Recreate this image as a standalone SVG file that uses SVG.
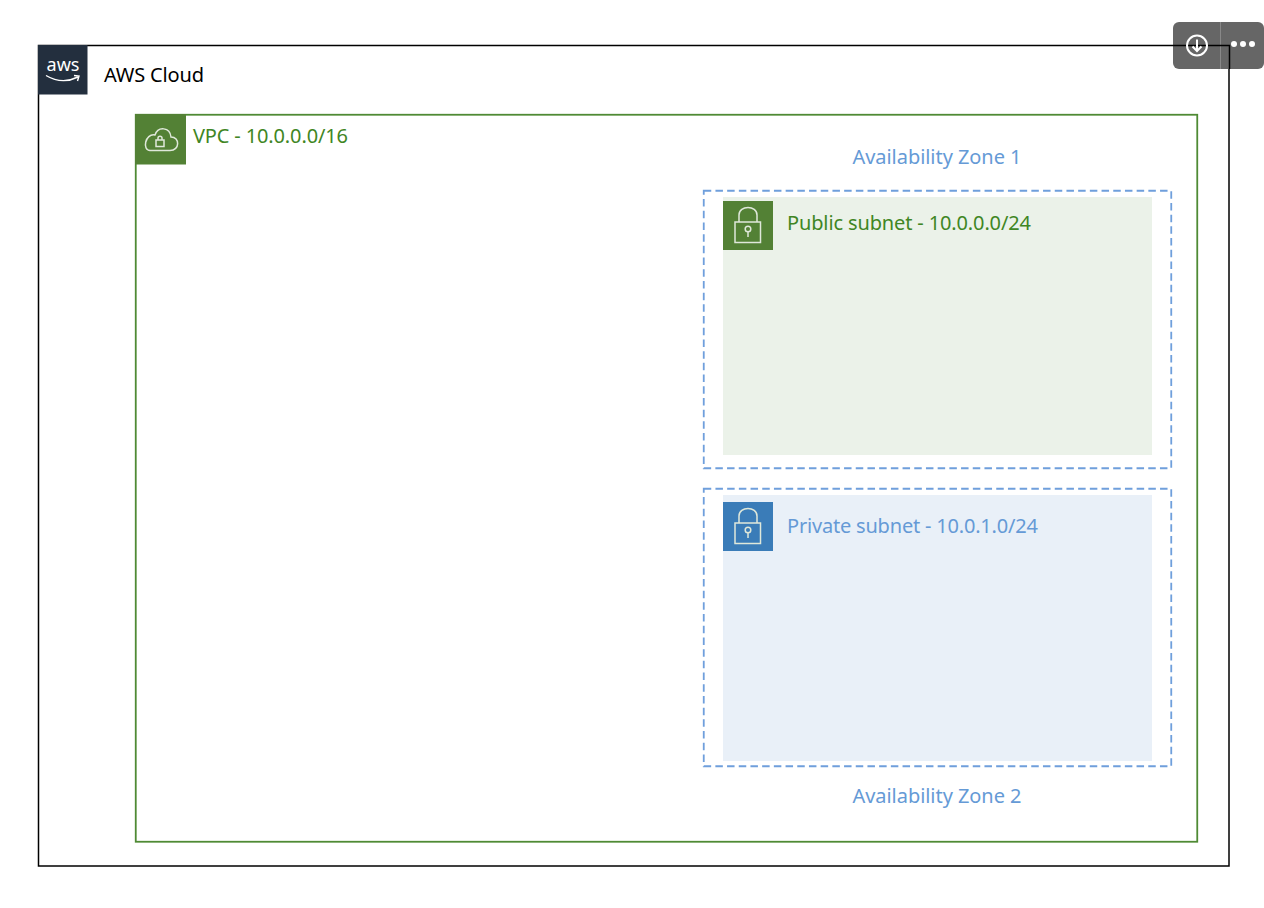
<svg xmlns="http://www.w3.org/2000/svg" width="1264" height="908" viewBox="0 0 1264 908">
<style>
text{font-family:"Noto Sans","Open Sans","Liberation Sans",sans-serif;font-size:20px}
.g{fill:#3f8624}.b{fill:#659ad6}.k{fill:#000}
.zone{fill:none;stroke:#6f9fdc;stroke-width:1.800;stroke-dasharray:7.500 4.200}
.ic{fill:none;stroke:#dfe8da;stroke-width:1.500}
.btn{fill:none;stroke:#fff;stroke-width:2}
</style>
<rect width="1264" height="908" fill="#fff"/>
<g id="aws-cloud">
<rect x="38.500" y="45.500" width="1190.500" height="820.500" fill="none" stroke="#000" stroke-width="1.500"/>
<rect x="38" y="45" width="49.500" height="49.500" fill="#232f3e"/>
<text x="46.500" y="71" style="font-size:18px" fill="#fff" textLength="33" lengthAdjust="spacingAndGlyphs">aws</text>
<path d="M46 75.500Q62 85 78 77M74 75.500L79 76L77.500 81" fill="none" stroke="#fff" stroke-width="1.400"/>
<text x="104" y="82" class="k" textLength="100">AWS Cloud</text>
</g>
<g id="vpc">
<rect x="135.750" y="114.750" width="1061.500" height="727" fill="none" stroke="#4f8a34" stroke-width="1.800"/>
<rect x="135" y="114" width="51" height="50.500" fill="#538135"/>
<path d="M150 150.500H170C180 150.500 180 137 171 137C170 127 158 126 155 135C145 133 142 150.500 150 150.500Z" class="ic"/>
<rect x="156" y="140" width="8" height="6.500" class="ic"/>
<path d="M158 140V138C158 135.500 162 135.500 162 138V140" class="ic"/>
<text x="193" y="143" class="g" textLength="155">VPC - 10.0.0.0/16</text>
</g>
<g id="az1">
<rect x="703.750" y="190.750" width="467.500" height="277.500" class="zone"/>
<text x="852.500" y="164" class="b" textLength="169">Availability Zone 1</text>
</g>
<g id="public-subnet">
<rect x="723" y="197" width="429" height="258" fill="#ebf2e9"/>
<rect x="723" y="201" width="50" height="49" fill="#538135"/>
<rect x="735" y="222" width="25.500" height="20.500" class="ic"/>
<path d="M739 222V215C739 205 757 205 757 215V222" class="ic"/>
<circle cx="748" cy="229" r="2.800" class="ic"/>
<path d="M748 232V237" class="ic"/>
<text x="787" y="230" class="g" textLength="244">Public subnet - 10.0.0.0/24</text>
</g>
<g id="az2">
<rect x="703.750" y="488.750" width="467.500" height="277.500" class="zone"/>
<text x="852.500" y="803" class="b" textLength="169">Availability Zone 2</text>
</g>
<g id="private-subnet">
<rect x="723" y="495" width="429" height="266" fill="#e9f0f8"/>
<rect x="723" y="502" width="50" height="49" fill="#3a7cb8"/>
<rect x="735" y="523" width="25.500" height="20.500" class="ic"/>
<path d="M739 523V516C739 506 757 506 757 516V523" class="ic"/>
<circle cx="748" cy="530" r="2.800" class="ic"/>
<path d="M748 533V538" class="ic"/>
<text x="787" y="533" class="b" textLength="251">Private subnet - 10.0.1.0/24</text>
</g>
<g id="toolbar">
<rect x="1173" y="22" width="91" height="47" rx="6" fill="#666"/>
<path d="M1220.500 22V69" stroke="#888" stroke-width="1"/>
<path d="M1173 45.500H1229.500V69" stroke="#000" stroke-width="1.500" fill="none"/>
<circle cx="1197" cy="45.500" r="10" class="btn"/>
<path d="M1197 39.500V50.500M1192.500 46.500L1197 51L1201.500 46.500" class="btn"/>
<circle cx="1234" cy="44" r="3" fill="#fff"/><circle cx="1243" cy="44" r="3" fill="#fff"/><circle cx="1252" cy="44" r="3" fill="#fff"/>
</g>
</svg>
